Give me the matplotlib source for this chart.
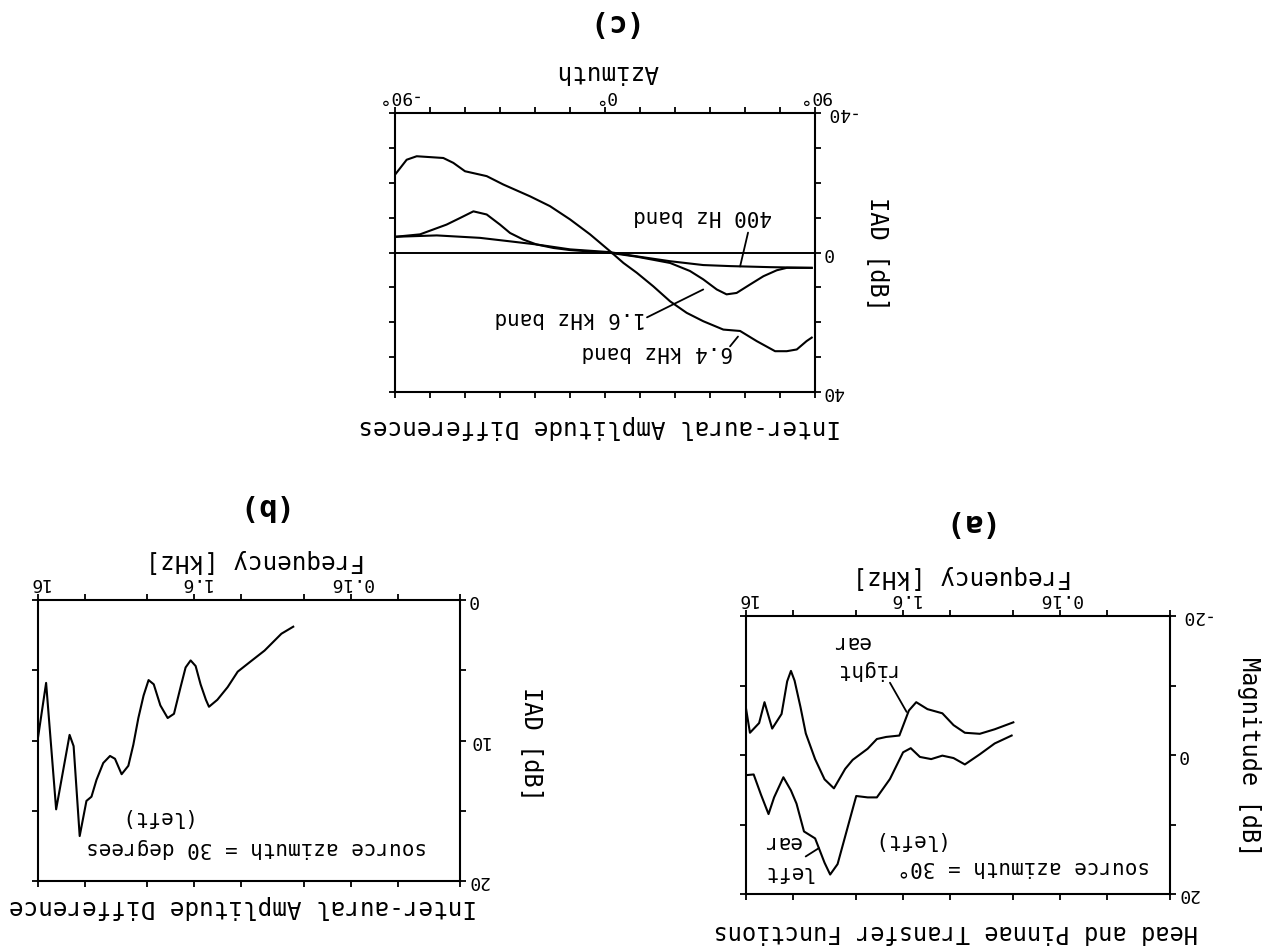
import matplotlib
matplotlib.use('Agg')
import matplotlib.pyplot as plt
from matplotlib.ticker import NullFormatter

plt.rcParams['font.family'] = ['DejaVu Sans Mono']

# (c) interaural amplitude difference vs azimuth, three bands
az_64k = [-90, -85.0, -80.7, -69.3, -65.0, -60.0, -50.7, -43.6, -32.1, -23.6, -15.0, -6.4, 2.1,
          7.9, 13.6, 20.7, 27.9, 35.0, 42.1, 50.7, 57.9, 65.0, 72.9, 77.9, 82.2, 86.4, 88.6]
iad_64k = [-22.3, -26.6, -27.6, -27.1, -25.7, -23.3, -21.9, -19.5, -16.1, -13.3, -9.5, -5.2, -0.4,
           3.0, 5.8, 9.7, 14.0, 17.3, 19.7, 22.1, 22.5, 25.4, 28.3, 28.3, 27.8, 25.4, 24.4]
az_16k = [-90, -79.3, -67.9, -62.1, -56.4, -50.7, -45.0, -40.7, -35.0, -29.3, -22.1, -15.0, 2.1,
          13.6, 27.9, 36.4, 42.1, 47.9, 52.1, 56.4, 62.1, 67.9, 73.6, 77.9, 88.6]
iad_16k = [-4.5, -5.2, -8.0, -9.9, -11.8, -10.9, -8.0, -5.6, -3.7, -2.3, -1.3, -0.7, 0.1,
           1.2, 3.0, 5.3, 7.7, 10.6, 12.0, 11.6, 9.2, 6.8, 5.1, 4.4, 4.4]
az_400 = [-90, -72.1, -53.6, -40.7, -29.3, -15.0, 2.1, 13.6, 27.9, 42.1, 53.6, 70.7, 88.6]
iad_400 = [-4.5, -4.9, -4.2, -3.2, -2.3, -0.9, -0.1, 1.1, 2.5, 3.6, 3.9, 4.2, 4.4]

# (b) IAD vs frequency, source at 30 degrees
freq_b = [0.373, 0.444, 0.569, 0.694, 0.845, 0.98, 1.14, 1.29, 1.35, 1.46, 1.57, 1.69, 1.82,
          1.96, 2.16, 2.37, 2.64, 2.91, 3.14, 3.38, 3.65, 3.93, 4.23, 4.67, 5.15, 5.54, 6.12,
          6.76, 7.28, 7.84, 8.66, 9.47, 10.05, 12.25, 14.2, 16.0]
iad_b = [1.9, 2.4, 3.6, 4.35, 5.1, 6.2, 7.1, 7.6, 7.1, 6.0, 4.7, 4.3, 4.8,
         6.2, 8.1, 8.4, 7.5, 6.0, 5.7, 6.8, 8.4, 10.3, 11.8, 12.4, 11.3, 11.1, 11.6,
         12.8, 14.0, 14.3, 16.8, 10.4, 9.6, 14.9, 5.9, 9.8]

# (a) head and pinnae transfer functions, right and left ear
freq_right = [0.318, 0.418, 0.52, 0.647, 0.764, 0.90, 1.12, 1.32, 1.47, 1.69, 2.05, 2.35, 2.69,
              3.35, 3.74, 4.41, 5.06, 5.81, 6.66, 7.2, 7.85, 8.28, 8.75, 9.5, 10.9, 12.2, 13.2,
              15.1, 16.0]
mag_right = [-4.7, -3.7, -3.05, -3.2, -4.3, -6.0, -6.6, -7.6, -6.4, -2.8, -2.6, -2.3, -0.9,
             0.7, 2.0, 4.8, 3.5, 0.6, -3.1, -6.9, -10.7, -12.1, -10.6, -5.9, -3.8, -7.6, -4.6,
             -3.2, -6.7]
freq_left = [0.326, 0.418, 0.52, 0.647, 0.764, 0.90, 1.06, 1.25, 1.43, 1.6, 1.94, 2.35, 2.69,
             3.18, 3.54, 4.18, 4.66, 5.06, 5.81, 6.84, 7.63, 8.28, 9.25, 10.6, 11.5, 12.85,
             14.3, 16.0]
mag_left = [-2.8, -1.66, -0.1, 1.36, 0.44, 0.09, 0.59, 0.28, -0.98, -0.39, 3.45, 6.1, 6.1,
            5.9, 9.74, 15.7, 17.2, 15.5, 12.0, 11.0, 7.0, 5.1, 3.2, 6.1, 8.5, 5.7,
            2.8, 2.9]

W, H = 1280, 949
fig = plt.figure(figsize=(W / 100, H / 100), dpi=100)


def frame(l, t, r, b):
    return fig.add_axes([l / W, 1 - b / H, (r - l) / W, (b - t) / H])


def put(x, y, s, size, rot=180, **kw):
    fig.text(x / W, 1 - y / H, s, rotation=rot, ha='center', va='center', fontsize=size, **kw)


def style(ax, xmaj, xlab, xmin, ymaj, ylab, ymin):
    ax.set_xticks(xmaj, xlab)
    ax.set_xticks(xmin, minor=True)
    ax.set_yticks(ymaj, ylab)
    ax.set_yticks(ymin, minor=True)
    ax.xaxis.set_minor_formatter(NullFormatter())
    ax.yaxis.set_minor_formatter(NullFormatter())
    ax.tick_params(which='both', direction='out', length=4, width=1.3,
                   top=True, bottom=True, left=True, right=True,
                   labeltop=True, labelbottom=False, labelright=True, labelleft=False,
                   labelsize=13, labelrotation=180)
    ax.tick_params(axis='x', pad=2)
    ax.tick_params(axis='y', pad=1)
    for lbl in ax.get_yticklabels():
        lbl.set_verticalalignment('center')
    for sp in ax.spines.values():
        sp.set_linewidth(1.5)


line = dict(color='black', lw=1.5, solid_joinstyle='round')
lead = dict(arrowstyle='-', color='black', lw=1.3, shrinkA=0, shrinkB=0)

# ---- (c) top panel ----
axc = frame(395, 113, 815, 392)
axc.plot(az_64k, iad_64k, **line)
axc.plot(az_16k, iad_16k, **line)
axc.plot(az_400, iad_400, **line)
axc.axhline(0, color='black', lw=1.4)
axc.set_xlim(-90, 90)
axc.set_ylim(40, -40)
style(axc, [-90, 0, 90], ['-90°', '0°', '90°'], list(range(-90, 91, 15)),
      [-40, 0, 40], ['-40', '0', '40'], list(range(-40, 41, 10)))
axc.annotate('', xy=(57.9, 4.0), xytext=(61.3, -5.7), arrowprops=lead)
axc.annotate('', xy=(42.1, 10.6), xytext=(18.0, 18.6), arrowprops=lead)
axc.annotate('', xy=(57.0, 24.1), xytext=(53.6, 26.9), arrowprops=lead)
put(703, 216, '400 Hz band', 15)
put(570, 318, '1.6 kHz band', 15)
put(657, 352, '6.4 kHz band', 15)
put(607, 23, '(c)', 22, fontweight='bold')
put(607, 72, 'Azimuth', 17.5)
put(600, 427, 'Inter-aural Amplitude Differences', 17.5)
put(878, 254, 'IAD [dB]', 17, rot=270)

# ---- (b) bottom left panel ----
axb = frame(38, 600, 460, 881)
axb.set_xscale('log')
axb.plot(freq_b, iad_b, **line)
axb.set_xlim(16, 0.032)
axb.set_ylim(20, 0)
style(axb, [16, 1.6, 0.16], ['16', '1.6', '0.16'], [8, 3.2, 0.8, 0.32, 0.08, 0.032],
      [0, 10, 20], ['0', '10', '20'], [5, 15])
put(257, 507, '(b)', 22, fontweight='bold')
put(255, 561, 'Frequency [kHz]', 17.5)
put(243, 907, 'Inter-aural Amplitude Difference', 17.5)
put(532, 744, 'IAD [dB]', 17, rot=270)
put(257, 848, 'source azimuth = 30 degrees', 15)
put(152, 817, '(left)', 15)

# ---- (a) bottom right panel ----
axa = frame(746, 616, 1170, 894)
axa.set_xscale('log')
axa.plot(freq_right, mag_right, **line)
axa.plot(freq_left, mag_left, **line)
axa.set_xlim(16, 0.032)
axa.set_ylim(20, -20)
style(axa, [16, 1.6, 0.16], ['16', '1.6', '0.16'], [8, 3.2, 0.8, 0.32, 0.08, 0.032],
      [-20, 0, 20], ['-20', '0', '20'], [-10, 10])
axa.annotate('', xy=(1.52, -6.2), xytext=(1.94, -10.4), arrowprops=lead)
axa.annotate('', xy=(5.5, 13.4), xytext=(6.67, 14.6), arrowprops=lead)
put(963, 523, '(a)', 22, fontweight='bold')
put(962, 577, 'Frequency [kHz]', 17.5)
put(956, 932, 'Head and Pinnae Transfer Functions', 17)
put(1249, 757, 'Magnitude [dB]', 17, rot=270)
put(1024, 867, 'source azimuth = 30°', 15)
put(905, 840, '(left)', 15)
put(788, 857, 'left\near', 15, multialignment='right', linespacing=1.6)
put(863, 656, 'right\near', 15, multialignment='right', linespacing=1.45)

fig.savefig('out.png', dpi=100)
